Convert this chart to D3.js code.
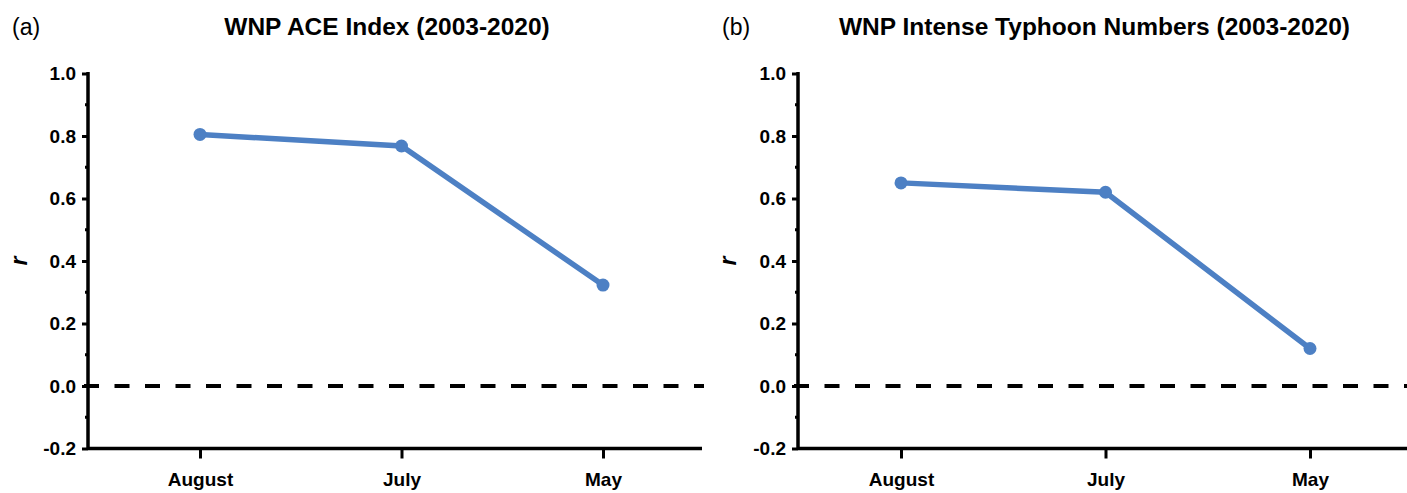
<!DOCTYPE html>
<html>
<head>
<meta charset="utf-8">
<script src="https://cdn.jsdelivr.net/npm/d3@7"></script>
<style>
	html, body { margin: 0; padding: 0; background: #fff; }
	svg { display: block; }
	text { font-family: "Liberation Sans", Arial, sans-serif; fill: #000; }
</style>
</head>
<body>
<div id="chart"></div>
<script>
// Data
const months = ["August", "July", "May"];
const aceValues = [0.805, 0.768, 0.323];
const typhoonValues = [0.650, 0.620, 0.120];
const yTicks = [-0.2, 0.0, 0.2, 0.4, 0.6, 0.8, 1.0];
const yMinorTicks = [-0.1, 0.1, 0.3, 0.5, 0.7, 0.9];

const panelLetters = ["(a)", "(b)"];
const panelTitles = ["WNP ACE Index (2003-2020)", "WNP Intense Typhoon Numbers (2003-2020)"];

const width = 1407;
const height = 493;
const lineColor = "#4d80c4";

const svg = d3.select("#chart").append("svg")
	.attr("width", width)
	.attr("height", height);

// Layout of each panel: axis line, first and last point, right end of x axis
const panels = [
	{ axisX: 88, firstX: 200, lastX: 603, endX: 702, letterX: 12, labelX: 27, values: aceValues },
	{ axisX: 798, firstX: 901, lastX: 1310, endX: 1407, letterX: 722, labelX: 736, values: typhoonValues }
];

const y = d3.scaleLinear().domain([-0.2, 1.0]).range([448.5, 73.5]);

panels.forEach((p, i) => {
	const g = svg.append("g");
	const x = d3.scalePoint().domain(months).range([p.firstX, p.lastX]);

	// panel letter and title
	g.append("text")
		.attr("x", p.letterX)
		.attr("y", 35)
		.style("font-size", "23px")
		.text(panelLetters[i]);

	g.append("text")
		.attr("x", (p.axisX + p.endX) / 2 - 8)
		.attr("y", 35)
		.attr("text-anchor", "middle")
		.style("font-size", "24.5px")
		.style("font-weight", "bold")
		.text(panelTitles[i]);

	// y axis
	const yAxis = d3.axisLeft(y)
		.tickValues(yTicks)
		.tickFormat(d => d.toFixed(1))
		.tickSize(6)
		.tickPadding(6);
	const ya = g.append("g")
		.attr("transform", `translate(${p.axisX},0)`)
		.call(yAxis);
	ya.select(".domain").remove();
	ya.selectAll(".tick line").attr("stroke-width", 3);
	ya.selectAll(".tick text")
		.style("font-size", "19px")
		.style("font-weight", "bold");

	// minor ticks
	g.selectAll(".minor")
		.data(yMinorTicks)
		.join("line")
		.attr("x1", p.axisX - 3)
		.attr("x2", p.axisX)
		.attr("y1", d => y(d))
		.attr("y2", d => y(d))
		.attr("stroke", "#000")
		.attr("stroke-width", 3);

	g.append("line")
		.attr("x1", p.axisX)
		.attr("x2", p.axisX)
		.attr("y1", y(1.0) - 1.5)
		.attr("y2", y(-0.2) + 1.5)
		.attr("stroke", "#000")
		.attr("stroke-width", 3.5);

	// x axis
	const xAxis = d3.axisBottom(x).tickSize(10).tickPadding(14);
	const xa = g.append("g")
		.attr("transform", `translate(0,${y(-0.2)})`)
		.call(xAxis);
	xa.select(".domain").remove();
	xa.selectAll(".tick line").attr("stroke-width", 3);
	xa.selectAll(".tick text")
		.style("font-size", "19px")
		.style("font-weight", "bold");

	g.append("line")
		.attr("x1", p.axisX)
		.attr("x2", p.endX)
		.attr("y1", y(-0.2))
		.attr("y2", y(-0.2))
		.attr("stroke", "#000")
		.attr("stroke-width", 3.5);

	// zero reference line
	g.append("line")
		.attr("x1", p.axisX - 4)
		.attr("x2", p.endX + 2)
		.attr("y1", y(0))
		.attr("y2", y(0))
		.attr("stroke", "#000")
		.attr("stroke-width", 4)
		.attr("stroke-dasharray", "15,15.5");

	// y label
	g.append("text")
		.attr("transform", `translate(${p.labelX},${y(0.4)}) rotate(-90)`)
		.attr("text-anchor", "middle")
		.style("font-size", "23px")
		.style("font-weight", "bold")
		.style("font-style", "italic")
		.text("r");

	// series
	const line = d3.line()
		.x((d, j) => x(months[j]))
		.y(d => y(d));

	g.append("path")
		.datum(p.values)
		.attr("d", line)
		.attr("fill", "none")
		.attr("stroke", lineColor)
		.attr("stroke-width", 5.5);

	g.selectAll(".pt")
		.data(p.values)
		.join("circle")
		.attr("cx", (d, j) => x(months[j]))
		.attr("cy", d => y(d))
		.attr("r", 6.5)
		.attr("fill", lineColor);
});
</script>
</body>
</html>
